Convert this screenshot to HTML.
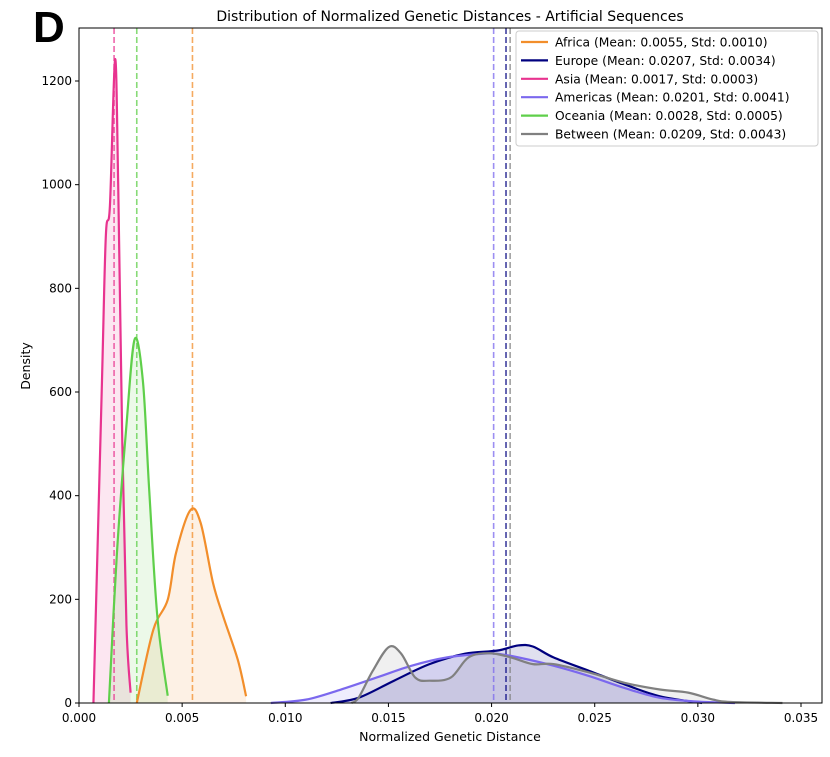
<!DOCTYPE html>
<html><head><meta charset="utf-8"><style>
body{margin:0;background:#fff;width:830px;height:752px;overflow:hidden;font-family:"Liberation Sans","DejaVu Sans",sans-serif}
</style></head><body>
<svg id="chart" width="830" height="752" xmlns="http://www.w3.org/2000/svg" font-family="DejaVu Sans, Liberation Sans, sans-serif">
<text x="33" y="42" font-size="44" font-weight="bold" font-family="Liberation Sans, sans-serif">D</text>
<text x="450" y="21" font-size="14" text-anchor="middle">Distribution of Normalized Genetic Distances - Artificial Sequences</text>
<g id="fills"></g><g id="means"></g><g id="lines"></g>
<rect x="79" y="28" width="743" height="675" fill="none" stroke="#000" stroke-width="1"/>
<g id="xticks"></g><g id="yticks"></g>
<text x="450" y="741" font-size="12.5" text-anchor="middle">Normalized Genetic Distance</text>
<text transform="translate(30,366) rotate(-90)" font-size="12.5" text-anchor="middle">Density</text>
<g id="legend"></g>
</svg>
<script>
const names=["Africa","Europe","Asia","Americas","Oceania","Between"];
const meanVals=[0.0055,0.0207,0.0017,0.0201,0.0028,0.0209];
const stdVals=[0.0010,0.0034,0.0003,0.0041,0.0005,0.0043];
const colors=["#f28e2b","#00007f","#e8338f","#7b68ee","#5fcf4a","#808080"];
const africaX=[0.0028,0.0036,0.0043,0.0047,0.0054,0.0059,0.0065,0.0070,0.0077,0.0081];
const africaY=[0,141,199,289,372,347,231,166,83,13];
const europeX=[0.0122,0.01355,0.01527,0.01699,0.01871,0.02026,0.02129,0.0220,0.0230,0.02473,0.02644,0.02816,0.0302];
const europeY=[0,10,43,75,95,101,111,109,88,62,36,13,0];
const asiaX=[0.0007,0.0011,0.0013,0.0015,0.00175,0.0019,0.0021,0.0023,0.0025];
const asiaY=[0,600,900,960,1242,1000,500,150,20];
const americasX=[0.0093,0.011,0.0127,0.01442,0.01613,0.01785,0.01957,0.02026,0.02129,0.0230,0.02473,0.02644,0.02816,0.0299,0.0318];
const americasY=[0,6.5,26,49,72,88,95,95,88,72,52,29,10,3,0];
const oceaniaX=[0.00145,0.00184,0.0023,0.0027,0.0031,0.0034,0.0038,0.0043];
const oceaniaY=[0,290,536,702,620,413,166,14];
const betweenX=[0.0132,0.01355,0.01424,0.01502,0.01562,0.0163,0.01699,0.01802,0.01888,0.01991,0.02094,0.0220,0.0230,0.02473,0.02644,0.02816,0.02953,0.03074,0.0316,0.0341];
const betweenY=[0,10,62,108,95,49,43,49,88,96,88,75,75,59,39,26,20,6.5,2,0];
const xTicks=[0,0.005,0.010,0.015,0.020,0.025,0.030,0.035];
const xTickLabels=["0.000","0.005","0.010","0.015","0.020","0.025","0.030","0.035"];
const yTicks=[0,200,400,600,800,1000,1200];
const seriesX=[africaX,europeX,asiaX,americasX,oceaniaX,betweenX];
const seriesY=[africaY,europeY,asiaY,americasY,oceaniaY,betweenY];
const NS="http://www.w3.org/2000/svg";
const X=v=>79+v/0.035*722, Y=v=>703-v/1200*622;
function mk(t,a,p){const e=document.createElementNS(NS,t);for(const k in a)e.setAttribute(k,a[k]);p.appendChild(e);return e;}
function path(xs,ys){const p=xs.map((x,i)=>[X(x),Y(ys[i])]);let d=`M${p[0][0]},${p[0][1]}`;
for(let i=0;i<p.length-1;i++){const p0=p[Math.max(0,i-1)],p1=p[i],p2=p[i+1],p3=p[Math.min(p.length-1,i+2)];
let c1x=p1[0]+(p2[0]-p0[0])/6,c2x=p2[0]-(p3[0]-p1[0])/6;
c1x=Math.min(Math.max(c1x,p1[0]),p2[0]);c2x=Math.min(Math.max(c2x,p1[0]),p2[0]);
const c1=[c1x,Math.min(703,p1[1]+(p2[1]-p0[1])/6)],c2=[c2x,Math.min(703,p2[1]-(p3[1]-p1[1])/6)];
d+=` C${c1[0]},${c1[1]} ${c2[0]},${c2[1]} ${p2[0]},${p2[1]}`;}return d;}
const fills=document.getElementById('fills'),lines=document.getElementById('lines'),means=document.getElementById('means');
names.forEach((n,i)=>{const d=path(seriesX[i],seriesY[i]);const xs=seriesX[i];
const f=mk('path',{d:d+` L${X(xs[xs.length-1])},703 L${X(xs[0])},703 Z`,fill:colors[i],'fill-opacity':0.12},fills);


const l=mk('path',{d:d,fill:'none',stroke:colors[i],'stroke-width':2.2},lines);


const m=mk('line',{x1:X(meanVals[i]),x2:X(meanVals[i]),y1:28,y2:703,stroke:colors[i],'stroke-opacity':0.75,'stroke-width':1.6,'stroke-dasharray':'6,3'},means);

});
const xt=document.getElementById('xticks');
xTicks.forEach((v,i)=>{const g=mk('g',{},xt);
mk('line',{x1:X(v),x2:X(v),y1:703,y2:707,stroke:'#000'},g);
const t=mk('text',{x:X(v),y:722,'font-size':12,'text-anchor':'middle'},g);t.textContent=xTickLabels[i];});
const yt=document.getElementById('yticks');
yTicks.forEach(v=>{const g=mk('g',{},yt);
mk('line',{x1:75,x2:79,y1:Y(v),y2:Y(v),stroke:'#000'},g);
const t=mk('text',{x:72,y:Y(v)+4,'font-size':12,'text-anchor':'end'},g);t.textContent=v;});
const lg=document.getElementById('legend');
const box=mk('rect',{x:516,y:31,width:302,height:115,fill:'#fff','fill-opacity':0.85,stroke:'#ccc',rx:3},lg);

names.forEach((n,i)=>{const g=mk('g',{},lg);
const y=42+i*18.4;mk('line',{x1:521,x2:548,y1:y,y2:y,stroke:colors[i],'stroke-width':2.2},g);
const t=mk('text',{x:555,y:y+4.5,'font-size':12.3},g);t.textContent=`${n} (Mean: ${meanVals[i].toFixed(4)}, Std: ${stdVals[i].toFixed(4)})`;});
</script>
</body></html>
